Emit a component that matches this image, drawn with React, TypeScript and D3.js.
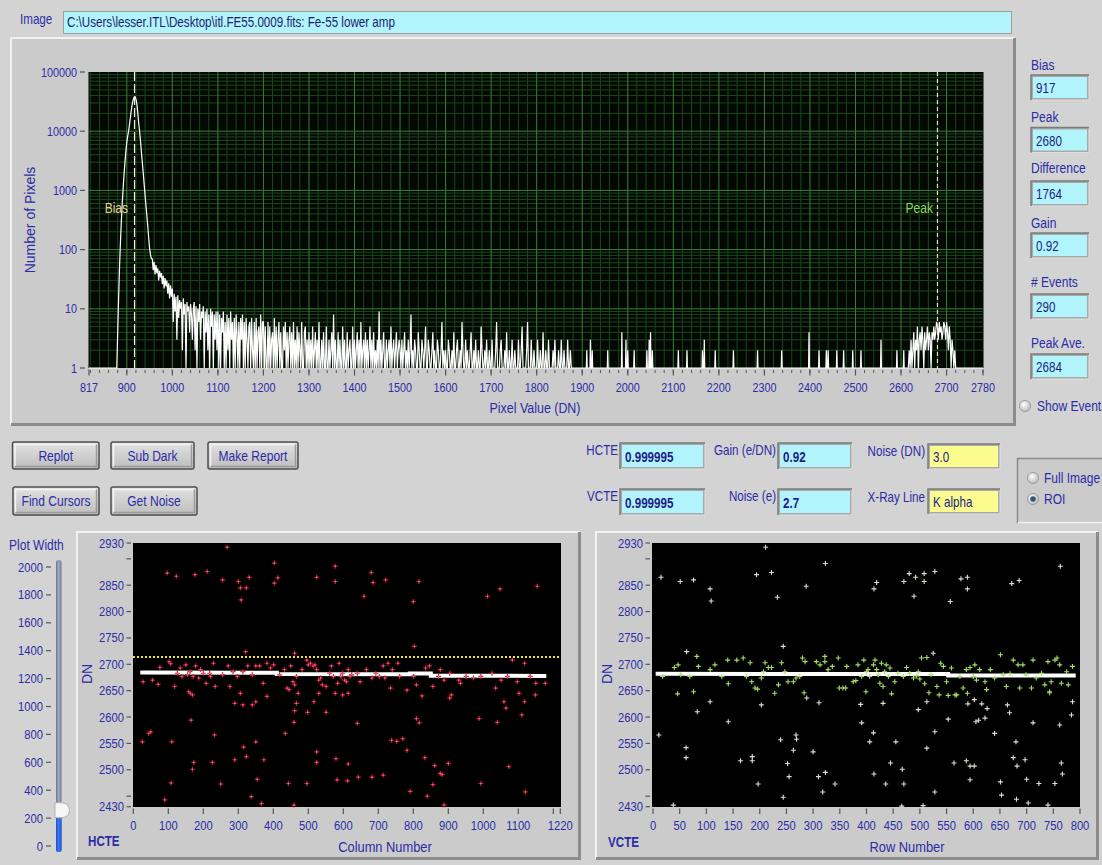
import React from "react";
import * as d3 from "d3";

type Pt = [number, number];

// ---------------- data ----------------
const imagePath = "C:\\Users\\lesser.ITL\\Desktop\\itl.FE55.0009.fits: Fe-55 lower amp";

const histXTicks = [817, 900, 1000, 1100, 1200, 1300, 1400, 1500, 1600, 1700, 1800, 1900, 2000, 2100, 2200, 2300, 2400, 2500, 2600, 2700, 2780];
const histYTicks = [1, 10, 100, 1000, 10000, 100000];

const biasCursor = 917;
const peakCursor = 2680;

// histogram counts, one value every 2 DN from the segment start
const biasPeakStart = 876;
const biasPeakCounts = [0, 1, 4, 15, 50, 130, 300, 600, 1100, 1900, 3000, 4600, 6500, 8300, 10000, 13000, 17500, 23000, 29000, 34000, 37500, 38000, 35000, 29000, 21000, 14000, 10000, 7000, 4500, 3000, 2000, 1300, 850, 560, 380, 250, 160, 105, 82, 70];
const tail956 = [70, 45, 62, 38, 55, 40, 48, 30, 44, 34, 40, 26, 36, 22, 33, 24, 30, 18, 27, 15, 25, 16];
const tail1000 = [22, 6, 18, 9, 16, 3, 17, 7, 14, 10, 13, 2, 15, 8, 12, 1, 13, 9, 11, 4, 12, 8, 3, 10, 13, 2, 11, 1, 10, 6, 12, 3, 9, 7, 11, 1, 9, 4, 10, 2, 8, 1, 10, 5, 9, 0, 8, 3, 9, 2];
const tail1100 = [9, 1, 8, 0, 7, 4, 9, 1, 6, 0, 8, 2, 7, 0, 9, 3, 6, 0, 7, 1, 8, 4, 0, 6, 1, 7, 3, 8, 0, 6, 1, 7, 3, 0, 5, 6, 0, 7, 2, 0, 6, 1, 7, 0, 4, 5, 0, 8, 1, 6];
const tail1200 = [6, 0, 5, 1, 0, 6, 1, 5, 0, 3, 4, 0, 7, 1, 5, 0, 3, 6, 0, 4, 1, 0, 5, 2, 6, 0, 4, 0, 3, 5, 0, 4, 1, 6, 0, 3, 1, 5, 0, 4, 2, 0, 6, 1, 0, 4, 5, 0, 3, 1];
const tail1300 = [4, 0, 3, 1, 5, 0, 2, 4, 0, 3, 0, 6, 1, 0, 3, 0, 4, 1, 0, 5, 1, 0, 3, 0, 2, 4, 0, 8, 0, 3, 1, 0, 4, 0, 3, 1, 0, 5, 0, 3, 1, 0, 4, 0, 2, 3, 0, 1, 5, 0];
const tail1400 = [3, 0, 2, 4, 0, 3, 1, 6, 0, 2, 3, 0, 4, 1, 3, 0, 2, 5, 0, 3, 0, 4, 1, 2, 0, 3, 0, 9, 1, 3, 0, 2, 4, 0, 1, 3, 0, 2, 3, 0, 5, 0, 2, 3, 0, 2, 4, 0, 2, 3];
const tail1500 = [2, 0, 3, 1, 2, 4, 0, 2, 1, 3, 0, 2, 8, 1, 2, 0, 3, 2, 1, 0, 4, 2, 0, 1, 3, 2, 0, 2, 5, 1, 0, 3, 2, 0, 1, 2, 4, 0, 2, 1, 0, 3, 2, 1, 0, 2, 6, 1, 2, 0];
const tail1600 = [2, 1, 0, 3, 2, 0, 1, 2, 0, 4, 1, 0, 2, 3, 0, 1, 2, 0, 6, 2, 0, 1, 3, 0, 2, 1, 0, 2, 4, 0, 1, 2, 0, 3, 1, 0, 2, 1, 0, 5, 2, 0, 1, 2, 0, 3, 1, 0, 2, 1];
const tail1700 = [0, 3, 0, 1, 0, 2, 6, 0, 1, 0, 2, 3, 0, 0, 1, 2, 0, 4, 0, 0, 2, 1, 0, 3, 0, 0, 2, 0, 1, 0, 3, 0, 0, 2, 5, 0, 1, 0, 0, 2, 6, 0, 0, 1, 3, 0, 0, 2, 0, 1];
const tail1800 = [0, 3, 0, 0, 2, 0, 1, 4, 0, 0, 2, 0, 0, 3, 0, 1, 0, 0, 2, 0, 3, 0, 0, 1, 2, 0, 0, 3, 0, 0, 2, 0, 0, 1, 3, 0, 0, 2, 0, 0];
// isolated single-DN spikes [DN, count] between 1880 and 2617
const sparseSpikes: Pt[] = [[1910, 2], [1918, 3], [1922, 2], [1956, 2], [1987, 4], [1996, 3], [2000, 2], [2014, 2], [2042, 2], [2047, 3], [2050, 4], [2054, 2], [2111, 2], [2130, 2], [2164, 2], [2168, 3], [2192, 2], [2232, 2], [2285, 2], [2338, 2], [2398, 4], [2420, 2], [2436, 2], [2440, 2], [2459, 2], [2474, 2], [2494, 2], [2512, 2], [2556, 3], [2591, 2], [2606, 2]];
const xrayStart = 2618;
const xrayCounts = [2, 0, 3, 0, 2, 4, 0, 3, 2, 5, 0, 3, 4, 2, 5, 3, 1, 4, 2, 3, 5, 2, 4, 3, 1, 4, 3, 5, 3, 4, 6, 5, 3, 6, 4, 5, 3, 4, 6, 5, 3, 6, 4, 2, 5, 3, 1, 3, 2, 0, 2, 0];

const sideLabels = ["Bias", "Peak", "Difference", "Gain", "# Events", "Peak Ave."];
const sideValues = ["917", "2680", "1764", "0.92", "290", "2684"];

const hcteText = "0.999995";
const vcteText = "0.999995";
const gainText = "0.92";
const noiseEText = "2.7";
const noiseDNText = "3.0";
const xrayLineText = "K alpha";

const sliderTicks = [0, 200, 400, 600, 800, 1000, 1200, 1400, 1600, 1800, 2000];
const plotWidthValue = 260;

const colTicks = [0, 100, 200, 300, 400, 500, 600, 700, 800, 900, 1000, 1100, 1200, 1220];
const colLabels = [0, 100, 200, 300, 400, 500, 600, 700, 800, 900, 1000, 1100, 1220];
const rowTicks = [0, 50, 100, 150, 200, 250, 300, 350, 400, 450, 500, 550, 600, 650, 700, 750, 800];
const dnTicks = [2430, 2450, 2500, 2550, 2600, 2650, 2700, 2750, 2800, 2850, 2900, 2930];
const dnLabels = [2430, 2500, 2550, 2600, 2650, 2700, 2750, 2800, 2850, 2930];

const hcteLimit = 2714;
const hcteFit: Pt[] = [[20, 2684.5], [410, 2684], [410, 2681.5], [790, 2681], [790, 2682.5], [850, 2682.5], [850, 2678.5], [1180, 2678]];
const vcteFit: Pt[] = [[5, 2682], [553, 2681.5], [553, 2679], [792, 2679]];

const hcteEvents: Pt[] = [
  [97, 2873], [123, 2867], [176, 2870], [211, 2876], [255, 2860], [268, 2922], [300, 2857], [306, 2845], [308, 2822], [323, 2845], [331, 2865], [403, 2892], [403, 2854], [413, 2864], [524, 2865], [577, 2886], [577, 2857], [659, 2829], [680, 2874], [685, 2855], [721, 2860], [800, 2819], [816, 2857], [1012, 2829], [1048, 2843], [1154, 2848], [803, 2734], [321, 2724], [461, 2721],
  [28, 2667], [55, 2670], [71, 2662], [76, 2694], [102, 2705], [107, 2701], [118, 2658], [126, 2683], [134, 2693], [139, 2677], [150, 2699], [155, 2680], [162, 2686], [171, 2677], [178, 2697], [187, 2674], [192, 2690], [200, 2683], [208, 2664], [218, 2683], [221, 2677], [229, 2702], [234, 2658], [255, 2680], [271, 2697], [276, 2658], [285, 2686], [297, 2677], [313, 2686], [327, 2697], [340, 2680], [350, 2697], [361, 2697], [371, 2664], [382, 2702], [392, 2693], [401, 2699], [418, 2680], [432, 2690], [439, 2655], [450, 2697], [456, 2667], [461, 2661], [466, 2677], [471, 2645], [482, 2690], [496, 2708], [500, 2699], [506, 2702], [514, 2697], [519, 2699], [524, 2690], [530, 2670], [535, 2674], [540, 2661], [551, 2658], [561, 2683], [566, 2697], [572, 2677], [584, 2664], [588, 2702], [593, 2677], [598, 2683], [604, 2670], [609, 2667], [614, 2690], [619, 2677], [624, 2680], [640, 2683], [648, 2667], [666, 2690], [682, 2674], [693, 2683], [703, 2677], [714, 2697], [719, 2674], [728, 2702], [735, 2655], [740, 2690], [756, 2702], [761, 2677], [782, 2651], [801, 2677], [809, 2661], [835, 2693], [846, 2697], [856, 2658], [872, 2677], [877, 2690], [888, 2670], [904, 2683], [930, 2670], [935, 2664], [951, 2677], [972, 2674], [993, 2677], [1025, 2683], [1035, 2655], [1051, 2670], [1069, 2677], [1083, 2708], [1097, 2667], [1118, 2702], [1134, 2677], [1150, 2664], [1177, 2664],
  [26, 2553], [44, 2569], [50, 2572], [110, 2553], [108, 2475], [90, 2443], [163, 2645], [158, 2648], [169, 2642], [165, 2594], [173, 2514], [169, 2501], [226, 2514], [232, 2566], [250, 2473], [290, 2626], [290, 2519], [306, 2645], [315, 2543], [313, 2623], [323, 2525], [337, 2449], [340, 2623], [350, 2629], [350, 2553], [354, 2482], [366, 2436], [373, 2519], [382, 2639], [434, 2569], [443, 2474], [445, 2652], [459, 2590], [461, 2612], [466, 2626], [459, 2433], [496, 2474], [498, 2609], [516, 2629], [524, 2534], [524, 2514], [530, 2645], [551, 2609], [577, 2645], [579, 2521], [582, 2481], [598, 2642], [612, 2479], [614, 2511], [614, 2645], [640, 2588], [643, 2486], [682, 2486], [714, 2490], [738, 2556], [753, 2554], [770, 2559], [782, 2537], [791, 2459], [809, 2597], [817, 2589], [825, 2640], [833, 2523], [840, 2450], [856, 2472], [861, 2508], [877, 2493], [882, 2491], [900, 2512], [904, 2636], [909, 2642], [888, 2433], [988, 2597], [993, 2474], [1040, 2590], [1059, 2629], [1065, 2617], [1073, 2506], [1102, 2645], [1110, 2604], [1118, 2629], [1120, 2458], [1149, 2642]
];

const vcteEvents: Pt[] = [
  [15, 2865], [51, 2857], [76, 2860], [107, 2843], [109, 2820], [194, 2870], [211, 2922], [222, 2874], [233, 2827], [287, 2848], [323, 2891], [414, 2843], [419, 2855], [470, 2857], [480, 2872], [489, 2829], [492, 2865], [508, 2857], [508, 2872], [528, 2876], [557, 2819], [577, 2862], [589, 2865], [589, 2843], [672, 2853], [686, 2859], [763, 2886], [63, 2724], [244, 2734],
  [18, 2677], [40, 2694], [47, 2699], [52, 2680], [69, 2677], [76, 2648], [82, 2715], [85, 2696], [107, 2690], [116, 2699], [129, 2677], [140, 2708], [141, 2663], [157, 2708], [169, 2712], [175, 2677], [182, 2703], [185, 2667], [191, 2655], [196, 2653], [203, 2674], [207, 2686], [210, 2703], [216, 2694], [222, 2694], [228, 2645], [235, 2661], [241, 2703], [247, 2686], [253, 2667], [263, 2667], [268, 2674], [275, 2677], [280, 2712], [285, 2705], [283, 2646], [288, 2636], [306, 2705], [313, 2699], [322, 2715], [322, 2705], [328, 2690], [336, 2696], [347, 2712], [349, 2655], [356, 2655], [361, 2655], [363, 2696], [375, 2667], [380, 2669], [384, 2699], [391, 2677], [395, 2708], [400, 2686], [403, 2690], [406, 2677], [413, 2699], [416, 2708], [419, 2690], [422, 2680], [425, 2664], [428, 2702], [431, 2658], [434, 2686], [437, 2699], [441, 2677], [444, 2693], [447, 2644], [453, 2667], [459, 2683], [469, 2677], [475, 2694], [481, 2683], [488, 2674], [494, 2678], [497, 2686], [500, 2672], [503, 2712], [513, 2713], [509, 2663], [517, 2646], [521, 2680], [525, 2721], [532, 2658], [536, 2642], [539, 2702], [544, 2696], [550, 2667], [553, 2641], [559, 2693], [566, 2642], [575, 2677], [581, 2655], [587, 2690], [589, 2645], [594, 2694], [600, 2677], [603, 2699], [606, 2670], [612, 2690], [622, 2667], [625, 2652], [632, 2690], [640, 2674], [651, 2718], [656, 2680], [662, 2658], [669, 2682], [675, 2708], [684, 2699], [687, 2655], [693, 2699], [699, 2680], [709, 2655], [712, 2708], [718, 2674], [728, 2683], [734, 2661], [740, 2705], [743, 2648], [746, 2667], [753, 2708], [757, 2712], [762, 2699], [765, 2664], [775, 2686], [778, 2661], [786, 2696],
  [11, 2566], [46, 2644], [38, 2433], [62, 2542], [62, 2523], [83, 2610], [107, 2629], [141, 2591], [164, 2517], [186, 2525], [186, 2517], [197, 2473], [203, 2623], [239, 2557], [244, 2448], [252, 2512], [255, 2487], [263, 2537], [268, 2566], [269, 2558], [300, 2534], [310, 2487], [311, 2627], [318, 2458], [323, 2495], [341, 2473], [389, 2624], [391, 2589], [399, 2648], [406, 2553], [413, 2570], [414, 2492], [431, 2626], [436, 2473], [445, 2513], [455, 2553], [466, 2431], [467, 2501], [470, 2473], [497, 2614], [506, 2432], [513, 2541], [513, 2629], [528, 2572], [528, 2458], [553, 2596], [564, 2513], [569, 2642], [587, 2517], [590, 2625], [594, 2507], [594, 2481], [602, 2507], [602, 2633], [605, 2591], [610, 2594], [616, 2625], [622, 2598], [626, 2616], [640, 2569], [651, 2477], [653, 2452], [664, 2623], [668, 2608], [675, 2523], [680, 2553], [682, 2507], [681, 2444], [697, 2519], [700, 2482], [703, 2437], [712, 2589], [723, 2474], [740, 2433], [743, 2646], [753, 2474], [762, 2585], [765, 2513], [767, 2492], [786, 2629], [784, 2604]
];

// ---------------- styling ----------------
const SANS = "'Liberation Sans',Arial,sans-serif";
const SX = 0.83; // horizontal squeeze of the screenshot's narrow UI font
const NAVY = "#2c2ca6";
const BG = "#d3d3d3";
const PANEL = "#cbcbcb";
const CYAN = "#b2f4fb";
const YELLOW = "#fbfb8e";

function T({ x, y, children, size = 13, anchor = "start", fill = NAVY, weight = "normal" }: { x: number; y: number; children: React.ReactNode; size?: number; anchor?: string; fill?: string; weight?: string }) {
  return (
    <text transform={`translate(${x},${y}) scale(${SX},1)`} textAnchor={anchor as any} fontFamily={SANS} fontSize={size} fontWeight={weight} fill={fill}>
      {children}
    </text>
  );
}

function Panel({ x, y, w, h }: { x: number; y: number; w: number; h: number }) {
  return (
    <g>
      <rect x={x} y={y} width={w} height={h} fill={PANEL} />
      <path d={`M${x + 1},${y + h - 1}V${y + 1}H${x + w - 1}`} stroke="#f2f2f2" strokeWidth={2} fill="none" />
      <path d={`M${x + w - 1.5},${y + 1}V${y + h - 1.5}H${x + 1}`} stroke="#8c8c8c" strokeWidth={3} fill="none" />
    </g>
  );
}

function Field({ x, y, w, h, fill, text, bold, size }: { x: number; y: number; w: number; h: number; fill: string; text: string; bold?: boolean; size?: number }) {
  return (
    <g>
      <rect x={x - 2} y={y - 2} width={w + 4} height={h + 4} fill="#a9a9a9" />
      <path d={`M${x - 2},${y + h + 2}V${y - 2}H${x + w + 2}`} stroke="#7c7c7c" strokeWidth={1.5} fill="none" />
      <path d={`M${x + w + 2},${y - 1}V${y + h + 2}H${x - 1}`} stroke="#e0e0e0" strokeWidth={1} fill="none" />
      <rect x={x} y={y} width={w} height={h} fill={fill} />
      <T x={x + 3} y={y + h - 5} size={size || 14} weight={bold ? "bold" : "normal"} fill="#1d1d86">
        {text}
      </T>
    </g>
  );
}

function Button({ x, y, w, h, label }: { x: number; y: number; w: number; h: number; label: string }) {
  return (
    <g>
      <rect x={x} y={y} width={w} height={h} rx={2} fill="url(#btnGrad)" stroke="#4e4e4e" strokeWidth={1.5} />
      <path d={`M${x + 2.5},${y + h - 2.5}V${y + 2.5}H${x + w - 2.5}`} stroke="#f4f4f4" strokeWidth={1.5} fill="none" />
      <path d={`M${x + w - 2.5},${y + 2.5}V${y + h - 2.5}H${x + 2.5}`} stroke="#9a9a9a" strokeWidth={1.5} fill="none" />
      <T x={x + w / 2} y={y + h / 2 + 5} anchor="middle" size={14.5}>
        {label}
      </T>
    </g>
  );
}

function Radio({ cx, cy, on }: { cx: number; cy: number; on?: boolean }) {
  return (
    <g>
      <circle cx={cx} cy={cy} r={5.5} fill="url(#radioGrad)" stroke="#9a9a9a" strokeWidth={1} />
      {on ? <circle cx={cx} cy={cy} r={2.8} fill="#2f5b78" /> : null}
    </g>
  );
}

function cross(x: number, y: number, a = 2.5) {
  return `M${x - a},${y}h${2 * a}M${x},${y - a}v${2 * a}`;
}

export default function App() {
  // ---- histogram ----
  const hx = d3.scaleLinear().domain([817, 2780]).range([89, 983]);
  const hy = d3.scaleLog().domain([1, 100000]).range([368, 72]);
  const hTop = 72, hBot = 368, hLeft = 88.5, hRight = 983.5;

  const histPts: Pt[] = [[817, 0], [874, 0]];
  biasPeakCounts.forEach((c, i) => histPts.push([biasPeakStart + 2 * i, c]));
  const tails: [number, number[]][] = [[956, tail956], [1000, tail1000], [1100, tail1100], [1200, tail1200], [1300, tail1300], [1400, tail1400], [1500, tail1500], [1600, tail1600], [1700, tail1700], [1800, tail1800]];
  tails.forEach(([s, arr]) => arr.forEach((c, i) => histPts.push([s + 2 * i, c])));
  sparseSpikes.forEach(([d, c]) => histPts.push([d - 1, 0], [d, c], [d + 1, 0]));
  histPts.push([2616, 0]);
  xrayCounts.forEach((c, i) => histPts.push([xrayStart + 2 * i, c]));
  histPts.push([2780, 0]);

  const histLine = d3
    .line<Pt>()
    .x((d) => hx(d[0]))
    .y((d) => hy(Math.max(1, d[1])));

  const minorX = d3.range(820, 2780, 20).filter((v) => !histXTicks.includes(v));
  const majorX = histXTicks.filter((v) => v !== 817 && v !== 2780);
  const minorY: number[] = [];
  [1, 10, 100, 1000, 10000].forEach((dec) => {
    for (let k = 2; k <= 9; k++) minorY.push(k * dec);
  });
  const majorY = histYTicks.filter((v) => v !== 1 && v !== 100000);

  // ---- bottom plots ----
  const cx = d3.scaleLinear().domain([0, 1220]).range([133.3, 560.3]);
  const rx = d3.scaleLinear().domain([0, 800]).range([653, 1080]);
  const dy = d3.scaleLinear().domain([2430, 2930]).range([806.7, 543]);
  const fitLineC = d3.line<Pt>().x((d) => cx(d[0])).y((d) => dy(d[1]));
  const fitLineR = d3.line<Pt>().x((d) => rx(d[0])).y((d) => dy(d[1]));

  const sy = d3.scaleLinear().domain([0, 2000]).range([846, 567]);

  const sideLabelY = [70, 121.5, 173, 228, 286.5, 348];
  const sideBoxY = [77, 129.5, 183, 235, 296, 356];

  return (
    <svg width={1102} height={865} style={{ position: "absolute", left: 0, top: 0, display: "block" }}>
      <defs>
        <linearGradient id="btnGrad" x1="0" y1="0" x2="0" y2="1">
          <stop offset="0" stopColor="#e2e2e2" />
          <stop offset="1" stopColor="#bdbdbd" />
        </linearGradient>
        <radialGradient id="radioGrad" cx="0.4" cy="0.35" r="0.7">
          <stop offset="0" stopColor="#ffffff" />
          <stop offset="1" stopColor="#b8b8b8" />
        </radialGradient>
        <linearGradient id="trackGrad" x1="0" y1="0" x2="1" y2="0">
          <stop offset="0" stopColor="#6c7490" />
          <stop offset="0.5" stopColor="#a4abc2" />
          <stop offset="1" stopColor="#6c7490" />
        </linearGradient>
        <linearGradient id="fillGrad" x1="0" y1="0" x2="1" y2="0">
          <stop offset="0" stopColor="#1a4fd0" />
          <stop offset="0.5" stopColor="#3d7cf5" />
          <stop offset="1" stopColor="#1a4fd0" />
        </linearGradient>
        <clipPath id="histClip">
          <rect x={hLeft} y={hTop} width={hRight - hLeft} height={hBot - hTop + 1} />
        </clipPath>
      </defs>
      <rect x={0} y={0} width={1102} height={865} fill={BG} />

      {/* Image path field */}
      <T x={20} y={24} size={14}>Image</T>
      <rect x={63} y={11} width={949} height={23} fill="#9e9e9e" />
      <rect x={64} y={12} width={947} height={21} fill={CYAN} />
      <T x={67} y={27} size={14} fill="#1c1c70">{imagePath}</T>

      {/* Histogram panel */}
      <Panel x={10} y={37} w={1006} h={389} />
      <rect x={hLeft} y={hTop} width={hRight - hLeft} height={hBot - hTop} fill="#030803" />
      <g clipPath="url(#histClip)">
        {minorX.map((v) => (
          <line key={"mx" + v} x1={hx(v)} x2={hx(v)} y1={hTop} y2={hBot} stroke="#1b461b" strokeWidth={1} />
        ))}
        {minorY.map((v) => (
          <line key={"my" + v} x1={hLeft} x2={hRight} y1={hy(v)} y2={hy(v)} stroke="#1b461b" strokeWidth={1} />
        ))}
        {majorX.map((v) => (
          <line key={"Mx" + v} x1={hx(v)} x2={hx(v)} y1={hTop} y2={hBot} stroke="#3b7f3b" strokeWidth={1} />
        ))}
        {majorY.map((v) => (
          <line key={"My" + v} x1={hLeft} x2={hRight} y1={hy(v)} y2={hy(v)} stroke="#3b7f3b" strokeWidth={1} />
        ))}
        <path d={histLine(histPts) || ""} fill="none" stroke="#ffffff" strokeWidth={1.2} />
        <line x1={hx(biasCursor)} x2={hx(biasCursor)} y1={hTop} y2={hBot} stroke="#f4f4e4" strokeWidth={1.2} strokeDasharray="9 3" />
        <line x1={hx(peakCursor)} x2={hx(peakCursor)} y1={hTop} y2={hBot} stroke="#e4eab4" strokeWidth={1.2} strokeDasharray="4 3" />
      </g>
      <T x={hx(biasCursor) - 6.5} y={213} anchor="end" size={14.5} fill="#e2d994">Bias</T>
      <T x={hx(peakCursor) - 4.5} y={213} anchor="end" size={14.5} fill="#86dc5a">Peak</T>
      {/* histogram axes */}
      {histYTicks.map((v) => (
        <g key={"hyt" + v}>
          <line x1={80} x2={85} y1={hy(v)} y2={hy(v)} stroke="#555" strokeWidth={1.2} />
          <T x={77} y={hy(v) + 4.5} anchor="end" size={13}>{v}</T>
        </g>
      ))}
      {d3.range(820, 2781, 20).map((v) => (
        <line key={"hmt" + v} x1={hx(v)} x2={hx(v)} y1={370} y2={373} stroke="#555" strokeWidth={1} />
      ))}
      {histXTicks.map((v) => (
        <g key={"hxt" + v}>
          <line x1={hx(v)} x2={hx(v)} y1={369.5} y2={375.5} stroke="#555" strokeWidth={1.2} />
          <T x={hx(v)} y={392} anchor="middle" size={13}>{v}</T>
        </g>
      ))}
      <T x={535} y={413} anchor="middle" size={15}>Pixel Value (DN)</T>
      <text transform="translate(35,220) rotate(-90)" textAnchor="middle" fontFamily={SANS} fontSize={14} fill={NAVY}>Number of Pixels</text>

      {/* Right side fields */}
      {sideLabels.map((lab, i) => (
        <g key={"side" + i}>
          <T x={1031} y={sideLabelY[i]} size={14.5}>{lab}</T>
          <Field x={1033} y={sideBoxY[i]} w={54} h={21} fill={CYAN} text={sideValues[i]} size={14} />
        </g>
      ))}
      <Radio cx={1025} cy={406} />
      <T x={1037} y={411} size={14.5}>Show Events</T>

      {/* Buttons */}
      <Button x={12.5} y={442} w={86.5} h={27} label="Replot" />
      <Button x={111} y={442} w={83} h={27} label="Sub Dark" />
      <Button x={208} y={442} w={90} h={27} label="Make Report" />
      <Button x={13} y={487} w={86} h={28} label="Find Cursors" />
      <Button x={111} y={487} w={86} h={28} label="Get Noise" />

      {/* Middle fields */}
      <T x={618} y={455} anchor="end" size={14}>HCTE</T>
      <Field x={622} y={445} w={81} h={22} fill={CYAN} text={hcteText} bold />
      <T x={776} y={455} anchor="end" size={14}>Gain (e/DN)</T>
      <Field x={780} y={445} w={70} h={22} fill={CYAN} text={gainText} bold />
      <T x={925} y={456} anchor="end" size={14}>Noise (DN)</T>
      <Field x={930} y={446} w={68} h={21} fill={YELLOW} text={noiseDNText} />
      <T x={618} y={501} anchor="end" size={14}>VCTE</T>
      <Field x={622} y={491} w={81} h={22} fill={CYAN} text={vcteText} bold />
      <T x={776} y={501} anchor="end" size={14}>Noise (e)</T>
      <Field x={780} y={491} w={70} h={22} fill={CYAN} text={noiseEText} bold />
      <T x={925} y={502} anchor="end" size={14}>X-Ray Line</T>
      <Field x={930} y={491} w={68} h={21} fill={YELLOW} text={xrayLineText} />

      {/* Radio group */}
      <rect x={1017} y={458} width={100} height={65} fill={PANEL} />
      <path d="M1017.5,523V458.5H1110" stroke="#8a8a8a" strokeWidth={1.5} fill="none" />
      <path d="M1018,522.5H1110" stroke="#f0f0f0" strokeWidth={1.5} fill="none" />
      <Radio cx={1033} cy={478} />
      <T x={1044} y={482.5} size={14.5}>Full Image</T>
      <Radio cx={1033} cy={499} on />
      <T x={1044} y={503.5} size={14.5}>ROI</T>

      {/* Plot width slider */}
      <T x={9} y={550} size={14.5}>Plot Width</T>
      {sliderTicks.map((v) => (
        <g key={"sl" + v}>
          <line x1={46} x2={51} y1={sy(v)} y2={sy(v)} stroke="#555" strokeWidth={1.2} />
          <T x={43} y={sy(v) + 4.5} anchor="end" size={13.5}>{v}</T>
        </g>
      ))}
      <rect x={56} y={560} width={5.5} height={292} rx={2.5} fill="url(#trackGrad)" />
      <rect x={56} y={sy(plotWidthValue)} width={5.5} height={852 - sy(plotWidthValue)} rx={2.5} fill="url(#fillGrad)" />
      <path d={`M${55},${sy(plotWidthValue) - 7} h7 a7.5,7.5 0 0 1 0,15 h-7 z`} fill="#f6f6f6" stroke="#b0b0b0" strokeWidth={1} />

      {/* HCTE panel */}
      <Panel x={76} y={531} w={505} h={329} />
      <rect x={133} y={543} width={428} height={264} fill="#000000" />
      <line x1={133} x2={561} y1={dy(hcteLimit)} y2={dy(hcteLimit)} stroke="#f0e630" strokeWidth={2} strokeDasharray="2 2" />
      <path d={fitLineC(hcteFit) || ""} fill="none" stroke="#ffffff" strokeWidth={4} />
      {hcteEvents.map(([c, v], i) => (
        <g key={"he" + i}>
          <path d={cross(cx(c), dy(v))} stroke="#c4213a" strokeWidth={1.2} />
          <rect x={cx(c) - 0.7} y={dy(v) - 0.7} width={1.4} height={1.4} fill="#ff6a80" />
        </g>
      ))}
      {dnTicks.map((v) => (
        <line key={"ldt" + v} x1={126.5} x2={131} y1={dy(v)} y2={dy(v)} stroke="#555" strokeWidth={1.2} />
      ))}
      {dnLabels.map((v) => (
        <T key={"ldl" + v} x={124} y={dy(v) + 4.5} anchor="end" size={13.5}>{v}</T>
      ))}
      {colTicks.map((v) => (
        <line key={"lct" + v} x1={cx(v)} x2={cx(v)} y1={808.5} y2={814} stroke="#555" strokeWidth={1.2} />
      ))}
      {colLabels.map((v) => (
        <T key={"lcl" + v} x={cx(v)} y={830} anchor="middle" size={13.5}>{v}</T>
      ))}
      <T x={385} y={852} anchor="middle" size={15.5}>Column Number</T>
      <text transform="translate(92,674) rotate(-90)" textAnchor="middle" fontFamily={SANS} fontSize={14} fill={NAVY}>DN</text>
      <T x={88} y={846} size={14} weight="bold">HCTE</T>

      {/* VCTE panel */}
      <Panel x={595} y={531} w={504} h={329} />
      <rect x={652} y={543} width={428} height={264} fill="#000000" />
      <path d={fitLineR(vcteFit) || ""} fill="none" stroke="#ffffff" strokeWidth={4} />
      {vcteEvents.map(([r, v], i) => {
        const near = Math.abs(v - 2680) <= 40;
        return <path key={"ve" + i} d={cross(rx(r), dy(v))} stroke={near ? "#a6e064" : "#dedfcf"} strokeWidth={1.1} />;
      })}
      {dnTicks.map((v) => (
        <line key={"rdt" + v} x1={645.5} x2={650} y1={dy(v)} y2={dy(v)} stroke="#555" strokeWidth={1.2} />
      ))}
      {dnLabels.map((v) => (
        <T key={"rdl" + v} x={643} y={dy(v) + 4.5} anchor="end" size={13.5}>{v}</T>
      ))}
      {rowTicks.map((v) => (
        <g key={"rrt" + v}>
          <line x1={rx(v)} x2={rx(v)} y1={808.5} y2={814} stroke="#555" strokeWidth={1.2} />
          <T x={rx(v)} y={830} anchor="middle" size={13.5}>{v}</T>
        </g>
      ))}
      <T x={907} y={852} anchor="middle" size={15.5}>Row Number</T>
      <text transform="translate(612,674) rotate(-90)" textAnchor="middle" fontFamily={SANS} fontSize={14} fill={NAVY}>DN</text>
      <T x={608} y={847} size={14} weight="bold">VCTE</T>
    </svg>
  );
}
